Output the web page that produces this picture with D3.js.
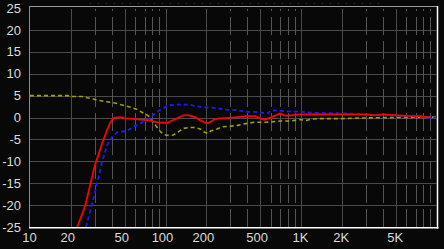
<!DOCTYPE html>
<html><head><meta charset="utf-8">
<script src="https://cdn.jsdelivr.net/npm/d3@7"></script>
<style>html,body{margin:0;padding:0;background:#080808;overflow:hidden}</style>
</head><body>
<svg id="c" width="444" height="249"></svg>
<script>
// ---- data ----
const freqTicks  = [10, 20, 50, 100, 200, 500, 1000, 2000, 5000];
const freqLabels = ["10", "20", "50", "100", "200", "500", "1K", "2K", "5K"];
const minorFreqs = [30, 40, 60, 70, 80, 90, 300, 400, 600, 700, 800, 900, 3000, 4000, 6000, 7000, 8000, 9000];
const dbTicks    = [25, 20, 15, 10, 5, 0, -5, -10, -15, -20, -25];

const redFreq = [22.3, 25.5, 27.8, 30.2, 32.9, 34.7, 37.1, 39, 41.1, 43, 47.9, 50, 57.7, 65, 75, 80, 88, 96, 104, 110, 122, 135, 150, 165, 180, 195, 205, 215, 230, 250, 290, 340, 400, 460, 500, 540, 590, 650, 700, 770, 840, 910, 1000, 1500, 2300, 3000, 3500, 4000, 5200, 6000, 7600, 8300, 9000];
const redDb   = [-25, -20.3, -15.4, -10.8, -7.4, -5.2, -2.9, -1.3, -0.25, 0, 0, -0.2, -0.3, -0.5, -0.6, -0.8, -1.1, -1.2, -1.2, -0.8, -0.2, 0.5, 0.5, 0.1, -0.6, -1.2, -1.3, -1.0, -0.4, -0.2, -0.1, 0.1, 0.3, 0.3, -0.2, -0.5, -0.1, 0.5, 0.9, 0.4, 0.5, 0.6, 0.7, 0.7, 0.7, 0.7, 0.5, 0.7, 0.5, 0.35, 0.3, 0.1, 0.1];

const blueFreq = [25.9, 28.7, 31.3, 34.1, 37.1, 40.4, 44, 50.4, 54, 57.7, 62, 70, 77, 85, 92, 100, 108, 120, 150, 165, 200, 230, 280, 340, 400, 460, 530, 570, 600, 700, 800, 1000, 1300, 1700, 2300, 3000, 3500, 5000, 6000, 7500, 8500, 9900];
const blueDb   = [-25, -19.8, -15, -10.1, -6.3, -4.4, -3.4, -3.1, -2.8, -2.1, -1.75, -0.8, 0, 1.05, 1.8, 2.4, 2.8, 2.95, 2.95, 2.6, 2.3, 2.2, 1.8, 1.65, 1.3, 1.3, 1.05, 0.95, 1.65, 1.5, 1.4, 1.3, 1.05, 1.0, 0.9, 0.6, 0.5, 0.5, 0.3, 0.2, 0, 0];

const yelFreq = [10, 19, 20.4, 24, 26.4, 29, 31, 35, 39, 44, 47, 50, 56, 62, 66, 71, 75, 78, 83, 88, 92, 100, 108, 114, 123, 135, 150, 165, 180, 195, 205, 215, 240, 265, 300, 340, 390, 450, 500, 560, 600, 700, 840, 990, 1080, 1200, 1400, 2000, 3000, 5000, 10000];
const yelDb   = [5, 5, 4.8, 4.8, 4.5, 4.3, 4.0, 3.7, 3.5, 3.2, 2.9, 2.7, 2.3, 1.8, 1.3, 0.8, 0.3, -0.5, -1.5, -2.5, -3.3, -4.0, -4.1, -4.0, -3.4, -2.5, -2.3, -2.3, -2.6, -3.4, -3.6, -3.1, -2.6, -2.1, -2.0, -1.8, -1.4, -1.1, -1.1, -1.1, -1.0, -0.8, -0.8, -0.45, -0.7, -0.35, -0.25, -0.25, -0.1, 0, 0.1];

// ---- layout ----
const L = 30, R = 436.5, T = 8, B = 227;
const svg = d3.select("#c");
const x = d3.scaleLog().domain([10, 10000]).range([L, R]);
const y = d3.scaleLinear().domain([-25, 25]).range([B, T]);
const gridCol = "#4a4a4a";

// faint dots above frame
svg.append("line").attr("x1", 90).attr("x2", 386).attr("y1", 3.5).attr("y2", 3.5)
  .attr("stroke", "#303030").attr("stroke-width", 1).attr("stroke-dasharray", "1,7");

// horizontal grid
svg.append("g").selectAll("line").data(dbTicks.filter(d => d < 25 && d > -25)).join("line")
  .attr("x1", L).attr("x2", R).attr("y1", d => Math.round(y(d)) + 0.5).attr("y2", d => Math.round(y(d)) + 0.5)
  .attr("stroke", gridCol).attr("stroke-width", 1);

// major vertical grid
svg.append("g").selectAll("line").data(freqTicks.filter(f => f > 10)).join("line")
  .attr("x1", f => Math.round(x(f)) + 0.5).attr("x2", f => Math.round(x(f)) + 0.5)
  .attr("y1", 9).attr("y2", B)
  .attr("stroke", gridCol).attr("stroke-width", 1);

// minor vertical grid (dashed)
svg.append("g").selectAll("line").data(minorFreqs).join("line")
  .attr("x1", f => Math.round(x(f)) + 0.5).attr("x2", f => Math.round(x(f)) + 0.5)
  .attr("y1", 9).attr("y2", B)
  .attr("stroke", "#555").attr("stroke-width", 1)
  .attr("stroke-dasharray", "18,6").attr("stroke-dashoffset", 16);

// frame
svg.append("line").attr("x1", L - 0.5).attr("x2", R + 1).attr("y1", 6.5).attr("y2", 6.5).attr("stroke", "#9a9a9a");
svg.append("line").attr("x1", 29.5).attr("x2", 29.5).attr("y1", 6).attr("y2", B + 1).attr("stroke", "#8a8a8a");
svg.append("line").attr("x1", L - 1).attr("x2", R + 2).attr("y1", B + 0.75).attr("y2", B + 0.75).attr("stroke", "#fff").attr("stroke-width", 1.5);
svg.append("line").attr("x1", R + 1).attr("x2", R + 1).attr("y1", 6).attr("y2", B + 1.5).attr("stroke", "#fff").attr("stroke-width", 1.5);

// clip
svg.append("clipPath").attr("id", "pc").append("rect")
  .attr("x", L).attr("y", 7).attr("width", R - L).attr("height", B - 7);

const line = d3.line().x(d => x(d[0])).y(d => y(d[1]));
const g = svg.append("g").attr("clip-path", "url(#pc)");
g.append("path").datum(d3.zip(yelFreq, yelDb)).attr("d", line)
  .attr("fill", "none").attr("stroke", "#a0a000").attr("stroke-width", 1.6).attr("stroke-dasharray", "4,3");
g.append("path").datum(d3.zip(blueFreq, blueDb)).attr("d", line)
  .attr("fill", "none").attr("stroke", "#1a1aff").attr("stroke-width", 1.8).attr("stroke-dasharray", "4,3");
g.append("path").datum(d3.zip(redFreq, redDb)).attr("d", line)
  .attr("fill", "none").attr("stroke", "#ff0000").attr("stroke-width", 1.8);

// labels
const font = "'Liberation Sans', Arial, sans-serif";
svg.append("g").selectAll("text").data(dbTicks).join("text")
  .attr("x", 21).attr("y", d => y(d)).attr("dy", "0.36em")
  .attr("text-anchor", "end").attr("fill", "#dcdcdc")
  .style("font-family", font).style("font-size", "13px")
  .text(d => d);
svg.append("g").selectAll("text").data(freqTicks).join("text")
  .attr("x", (f, i) => x(f) + ((i === 0 || /K/.test(freqLabels[i])) ? -0.5 : -3))
  .attr("y", 242).attr("text-anchor", "middle").attr("fill", "#dcdcdc")
  .style("font-family", font).style("font-size", "13px")
  .text((f, i) => freqLabels[i]);
</script>
</body></html>
